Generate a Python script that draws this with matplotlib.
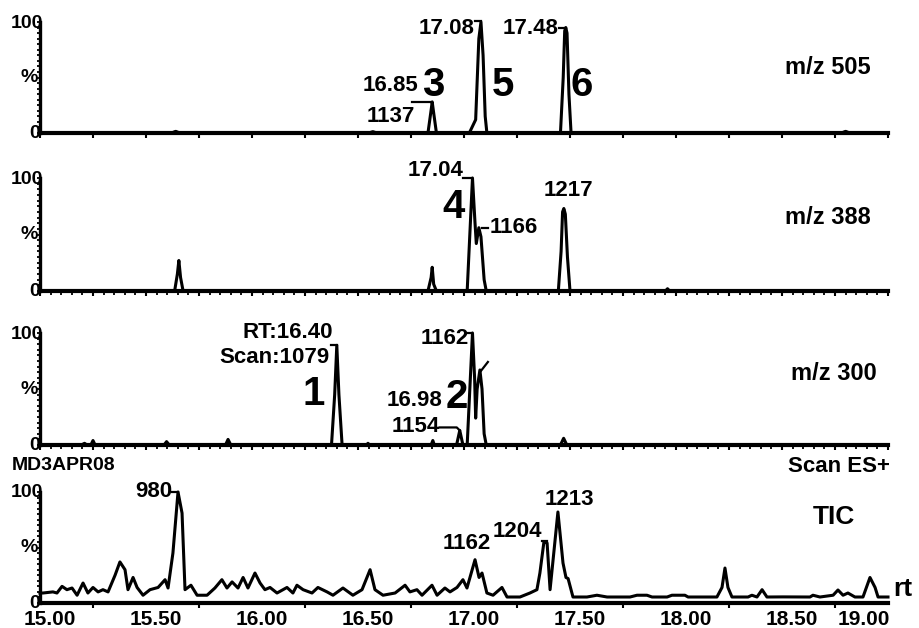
import numpy as np
import matplotlib.pyplot as plt
from matplotlib.ticker import MultipleLocator, FixedLocator, NullLocator
from matplotlib.transforms import ScaledTranslation

plt.rcParams['font.family'] = ['Liberation Sans', 'DejaVu Sans']
plt.rcParams['font.weight'] = 'bold'

# ---------------- chromatogram traces: rt (min) / relative intensity (%)
rt_505 = [15.00, 15.62, 15.64, 15.66, 16.55, 16.57, 16.59, 16.83, 16.843, 16.85,
          16.857, 16.87, 17.025, 17.04, 17.055, 17.07, 17.08, 17.09, 17.10, 17.108,
          17.455, 17.468, 17.475, 17.48, 17.486, 17.495, 17.505, 18.78, 18.80, 18.82, 19.00]
int_505 = [0, 0, 1.5, 0, 0, 1.2, 0, 0, 18, 28,
           18, 0, 0, 6, 12, 85, 100, 70, 15, 0,
           0, 50, 92, 95, 90, 35, 0, 0, 1.5, 0, 0]

rt_388 = [15.00, 15.635, 15.648, 15.655, 15.663, 15.675, 16.83, 16.845, 16.85, 16.857,
          16.87, 17.015, 17.03, 17.04, 17.052, 17.058, 17.07, 17.08, 17.095, 17.105,
          17.445, 17.458, 17.465, 17.471, 17.478, 17.488, 17.50, 17.95, 17.96, 17.97, 19.00]
int_388 = [0, 0, 15, 27, 12, 0, 0, 12, 21, 6,
           0, 0, 60, 100, 60, 42, 56, 48, 10, 0,
           0, 35, 70, 73, 68, 30, 0, 0, 2, 0, 0]

rt_300 = [15.00, 15.195, 15.21, 15.222, 15.24, 15.25, 15.26, 15.585, 15.597, 15.61,
          15.875, 15.887, 15.90, 16.375, 16.39, 16.40, 16.41, 16.425, 16.54, 16.547,
          16.555, 16.845, 16.853, 16.86, 16.965, 16.98, 16.995, 17.015, 17.03, 17.04,
          17.05, 17.055, 17.062, 17.075, 17.085, 17.095, 17.105, 17.455, 17.47, 17.485, 19.00]
int_300 = [0, 0, 1.5, 0, 0, 4, 0, 0, 3, 0,
           0, 5, 0, 0, 45, 89, 45, 0, 0, 1.5,
           0, 0, 4, 0, 0, 13, 0, 0, 60, 100,
           60, 24, 50, 67, 50, 10, 0, 0, 6, 0, 0]

rt_tic = [15.00, 15.014, 15.061, 15.08, 15.104, 15.127, 15.151, 15.175, 15.203, 15.226,
          15.25, 15.274, 15.297, 15.321, 15.354, 15.377, 15.401, 15.415, 15.439, 15.458,
          15.486, 15.519, 15.557, 15.59, 15.604, 15.627, 15.651, 15.67, 15.684, 15.712,
          15.741, 15.788, 15.825, 15.858, 15.882, 15.906, 15.934, 15.958, 15.981, 16.014,
          16.038, 16.061, 16.085, 16.118, 16.165, 16.193, 16.212, 16.241, 16.283, 16.311,
          16.354, 16.382, 16.429, 16.476, 16.519, 16.557, 16.58, 16.618, 16.675, 16.722,
          16.745, 16.778, 16.802, 16.849, 16.873, 16.91, 16.934, 16.967, 16.995, 17.014,
          17.052, 17.071, 17.085, 17.108, 17.137, 17.179, 17.203, 17.264, 17.311, 17.344,
          17.358, 17.377, 17.392, 17.406, 17.443, 17.467, 17.481, 17.491, 17.514, 17.58,
          17.627, 17.675, 17.736, 17.783, 17.816, 17.863, 17.887, 17.958, 17.981, 18.042,
          18.057, 18.193, 18.217, 18.231, 18.245, 18.264, 18.34, 18.358, 18.382, 18.406,
          18.429, 18.505, 18.632, 18.646, 18.679, 18.741, 18.764, 18.788, 18.811, 18.844,
          18.882, 18.915, 18.939, 18.953, 18.986, 19.00]
int_tic = [9, 9, 10, 9, 15, 12, 13.5, 7, 18, 9,
           14, 10, 12, 10, 25, 37, 30, 12, 23, 14,
           7, 12, 14, 21, 13.5, 45, 100, 81, 12, 16,
           7, 7, 13.5, 21, 13.5, 19, 13.5, 23, 13.5, 27,
           18, 12, 14, 9, 14, 9, 16, 12, 9, 14,
           10, 7, 13.5, 7, 12, 30, 12, 7, 9, 16,
           10, 12, 7, 16, 7, 13.5, 10, 14, 21, 13.5,
           39, 23, 27, 9, 7, 14, 5.4, 5.4, 9, 12,
           27, 55, 54, 12, 82, 36, 23, 22, 5.4, 5.4,
           7, 5.4, 5.4, 5.4, 7, 7, 5.4, 5.4, 7, 7,
           5.4, 5.4, 14, 31.5, 14, 5.4, 5.4, 7, 5.4, 12,
           5.4, 5.5, 5.4, 7, 5.4, 7, 11.7, 7, 9, 5.4,
           5.4, 23, 14, 5.4, 5.4, 5.4]

tic_ticks = [15.00, 15.50, 16.00, 16.50, 17.00, 17.50, 18.00, 18.50, 19.00]
tic_ticklabels = ['15.00', '15.50', '16.00', '16.50', '17.00', '17.50', '18.00', '18.50', '19.00']

W, H = 920, 628
fig = plt.figure(figsize=(W / 100, H / 100), dpi=100)
fig.patch.set_facecolor('white')


def make_axes(y_zero, y_full):
    ax = fig.add_axes([40 / W, 1 - y_zero / H, 848 / W, (y_zero - y_full) / H])
    ax.set_xlim(15, 19)
    ax.set_ylim(0, 100)
    for side in ('top', 'right'):
        ax.spines[side].set_visible(False)
    ax.spines['bottom'].set_linewidth(3.0)
    ax.spines['left'].set_linewidth(2.4)
    ax.yaxis.set_major_locator(NullLocator())
    ax.yaxis.set_minor_locator(MultipleLocator(5))
    ax.tick_params(axis='y', which='minor', direction='out', length=2.2, width=1.3)
    ax.tick_params(axis='x', which='both', direction='out', width=1.5, labelbottom=False)
    # 100 / % / 0 scale labels sitting on the intensity axis
    for val, s, dx, dy in ((100, '100', 3, -1), (50, '%', -2, 0), (0, '0', 0, 0)):
        ax.annotate(s, xy=(0, val), xycoords=('axes fraction', 'data'),
                    xytext=(dx, dy), textcoords='offset pixels',
                    ha='right', va='center', fontsize=14, annotation_clip=False)
    return ax


def trace(ax, rt, inten):
    ax.plot(rt, inten, color='black', lw=2.2, solid_joinstyle='round', clip_on=False)


def apex(rt_list, int_list, rt):
    return float(np.interp(rt, rt_list, int_list))


def label(ax, rt_list, int_list, rt, s, dx, dy, ha='right', size=16):
    ax.annotate(s, xy=(rt, apex(rt_list, int_list, rt)), xytext=(dx, dy),
                textcoords='offset pixels', ha=ha, va='center', fontsize=size,
                annotation_clip=False)


def hook(ax, rt_list, int_list, rt, pts):
    # connector drawn in pixel offsets from the labelled apex
    sx = ax.bbox.width / 4.0
    sy = ax.bbox.height / 100.0
    y0 = apex(rt_list, int_list, rt)
    xs = [rt + p[0] / sx for p in pts]
    ys = [y0 + p[1] / sy for p in pts]
    ax.plot(xs, ys, color='black', lw=1.6, clip_on=False)


def ftext(x, y, s, ha='center', size=17):
    fig.text(x / W, 1 - y / H, s, ha=ha, va='center', fontsize=size)


# ---------------- m/z 505
ax1 = make_axes(133, 22)
ax1.xaxis.set_major_locator(MultipleLocator(0.25))
ax1.tick_params(axis='x', which='major', length=3.6)
trace(ax1, rt_505, int_505)
label(ax1, rt_505, int_505, 16.85, '16.85', -14, 16)
label(ax1, rt_505, int_505, 16.85, '1137', -17, -15)
hook(ax1, rt_505, int_505, 16.85, [(-20, 0), (0, 0)])
label(ax1, rt_505, int_505, 16.85, '3', 1, 17, ha='center', size=29)
label(ax1, rt_505, int_505, 17.08, '17.08', -6, -7)
hook(ax1, rt_505, int_505, 17.08, [(-6, 1), (0, 1)])
label(ax1, rt_505, int_505, 17.08, '5', 22, -63, ha='center', size=29)
label(ax1, rt_505, int_505, 17.48, '17.48', -7, -1)
hook(ax1, rt_505, int_505, 17.48, [(-7, 0), (0, 0)])
label(ax1, rt_505, int_505, 17.48, '6', 16, -57, ha='center', size=29)
ftext(828, 67, 'm/z 505')

# ---------------- m/z 388
ax2 = make_axes(291, 178)
ax2.xaxis.set_major_locator(MultipleLocator(0.25))
ax2.xaxis.set_minor_locator(MultipleLocator(0.05))
ax2.tick_params(axis='x', which='major', length=3.6)
ax2.tick_params(axis='x', which='minor', length=3.0, width=1.3)
trace(ax2, rt_388, int_388)
label(ax2, rt_388, int_388, 17.04, '17.04', -9, 8)
hook(ax2, rt_388, int_388, 17.04, [(-9, 0), (0, 0)])
label(ax2, rt_388, int_388, 17.04, '4', -19, -29, ha='center', size=29)
hook(ax2, rt_388, int_388, 17.07, [(3, 0), (9, 0)])
label(ax2, rt_388, int_388, 17.07, '1166', 11, 0, ha='left')
label(ax2, rt_388, int_388, 17.471, '1217', 5, 18, ha='center')
ftext(828, 218, 'm/z 388')

# ---------------- m/z 300
ax3 = make_axes(445, 333)
ax3.xaxis.set_major_locator(MultipleLocator(0.25))
ax3.xaxis.set_minor_locator(MultipleLocator(0.05))
ax3.tick_params(axis='x', which='major', length=3.6)
ax3.tick_params(axis='x', which='minor', length=3.0, width=1.3)
trace(ax3, rt_300, int_300)
label(ax3, rt_300, int_300, 16.40, 'RT:16.40', -4, 13)
label(ax3, rt_300, int_300, 16.40, 'Scan:1079', -7, -12)
hook(ax3, rt_300, int_300, 16.40, [(-6, 0), (0, 0)])
label(ax3, rt_300, int_300, 16.40, '1', -23, -49, ha='center', size=29)
label(ax3, rt_300, int_300, 17.04, '1162', -4, -5)
hook(ax3, rt_300, int_300, 17.04, [(-5, 0), (0, 0)])
label(ax3, rt_300, int_300, 16.98, '16.98', -17, 30)
label(ax3, rt_300, int_300, 16.98, '1154', -20, 4)
hook(ax3, rt_300, int_300, 16.98, [(-20, 3), (-3, 3), (0, 0)])
label(ax3, rt_300, int_300, 16.98, '2', -3, 33, ha='center', size=29)
hook(ax3, rt_300, int_300, 17.075, [(1, -1), (8, 8)])
ftext(834, 373, 'm/z 300')
ftext(12, 465, 'MD3APR08', ha='left', size=14)
ftext(890, 466, 'Scan ES+', ha='right', size=16)

# ---------------- TIC
ax4 = make_axes(603, 492)
ax4.xaxis.set_major_locator(FixedLocator(tic_ticks))
ax4.xaxis.set_minor_locator(FixedLocator(np.arange(15.25, 19.0, 0.5)))
ax4.tick_params(axis='x', which='major', length=0, pad=5, labelbottom=True, labelsize=15)
ax4.tick_params(axis='x', which='minor', length=3.6)
ax4.set_xticklabels(tic_ticklabels)
shift = ScaledTranslation(0.10, 0, fig.dpi_scale_trans)
back = ScaledTranslation(0.02, 0, fig.dpi_scale_trans)
xlabels = ax4.get_xticklabels()
for lbl in xlabels[:-1]:
    lbl.set_transform(lbl.get_transform() + shift)
    lbl.set_fontweight('bold')
# last label kept inside the right edge
xlabels[-1].set_horizontalalignment('right')
xlabels[-1].set_transform(xlabels[-1].get_transform() + back)
xlabels[-1].set_fontweight('bold')
trace(ax4, rt_tic, int_tic)
label(ax4, rt_tic, int_tic, 15.651, '980', -6, 0)
hook(ax4, rt_tic, int_tic, 15.651, [(-6, 0), (0, 0)])
label(ax4, rt_tic, int_tic, 17.052, '1162', -8, 16, ha='center')
label(ax4, rt_tic, int_tic, 17.377, '1204', -2, 10)
hook(ax4, rt_tic, int_tic, 17.377, [(-2, 1), (3, 1)])
label(ax4, rt_tic, int_tic, 17.443, '1213', 11, 12, ha='center')
ftext(834, 517, 'TIC', size=19)
ftext(893, 589, 'rt', ha='left', size=19)

fig.savefig('out.png', dpi=100, facecolor='white')
